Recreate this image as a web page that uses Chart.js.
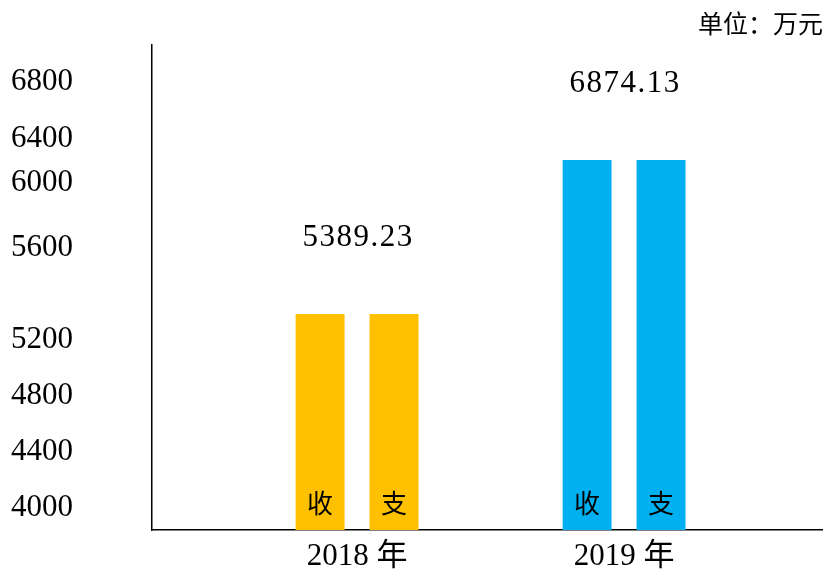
<!DOCTYPE html>
<html><head><meta charset="utf-8">
<script src="https://cdn.jsdelivr.net/npm/chart.js@4/dist/chart.umd.min.js"></script>
<style>html,body{margin:0;padding:0;background:#fff}#wrap{width:823px;height:572px}</style>
</head><body><div id="wrap"><canvas id="c"></canvas></div>
<script>
// ---- data ----
const years = ['2018 年', '2019 年'];
const seriesNames = ['收', '支'];
const incomeBars = [5312, 6209];   // bar heights read against the y axis
const expenseBars = [5312, 6209];
const totals = ['5389.23', '6874.13'];
const yTickValues = [4000, 4400, 4800, 5200, 5600, 6000, 6400, 6800];
const unitText = '单位：万元';

const YELLOW = '#FFC000', BLUE = '#00B0F0';
const NUM_FONT = '"Liberation Serif", "Noto Sans CJK SC", serif';
const CJK_FONT = '"Noto Sans CJK SC", "Liberation Serif", sans-serif';
const Y_MIN = 3843, Y_MAX = 7060;

// piecewise-linear value axis (the picture's tick spacing is uneven)
class PiecewiseScale extends Chart.LinearScale {
  _frac(v) {
    const k = this.options.knots;
    let i = 0;
    while (i < k.length - 2 && v > k[i + 1].value) i++;
    const a = k[i], b = k[i + 1];
    return a.at + (v - a.value) * (b.at - a.at) / (b.value - a.value);
  }
  getPixelForValue(v) {
    return this.bottom - this._frac(v) * (this.bottom - this.top);
  }
  getValueForPixel(p) {
    const f = (this.bottom - p) / (this.bottom - this.top);
    const k = this.options.knots;
    let i = 0;
    while (i < k.length - 2 && f > k[i + 1].at) i++;
    const a = k[i], b = k[i + 1];
    return a.value + (f - a.at) * (b.value - a.value) / (b.at - a.at);
  }
}
PiecewiseScale.id = 'piecewise';
PiecewiseScale.defaults = {};
Chart.register(PiecewiseScale);

const barLabels = {
  id: 'barLabels',
  afterDatasetsDraw(chart) {
    const ctx = chart.ctx;
    const metas = [chart.getDatasetMeta(0), chart.getDatasetMeta(1)];
    ctx.save();
    ctx.fillStyle = '#000';
    ctx.textAlign = 'center';
    ctx.textBaseline = 'middle';
    ctx.font = '26px ' + CJK_FONT;
    metas.forEach((m, d) => m.data.forEach(bar => ctx.fillText(seriesNames[d], bar.x, bar.base - 27)));
    ctx.font = '31px ' + NUM_FONT;
    ctx.letterSpacing = '1.5px';
    metas[0].data.forEach((bar, i) => {
      const other = metas[1].data[i];
      const cx = (bar.x + other.x) / 2;
      const top = Math.min(bar.y, other.y);
      ctx.fillText(totals[i], cx + 1, top - 76);
    });
    ctx.restore();
  }
};

Chart.defaults.font.family = NUM_FONT;
Chart.defaults.color = '#000';

new Chart(document.getElementById('c'), {
  type: 'bar',
  data: {
    datasets: [
      { label: seriesNames[0], data: incomeBars.map((y, i) => ({ x: i, y })), backgroundColor: [YELLOW, BLUE] },
      { label: seriesNames[1], data: expenseBars.map((y, i) => ({ x: i, y })), backgroundColor: [YELLOW, BLUE] }
    ]
  },
  options: {
    responsive: true,
    maintainAspectRatio: false,
    animation: false,
    base: Y_MIN,
    categoryPercentage: 0.554,
    barPercentage: 0.662,
    layout: { padding: { left: 11, right: 0, top: 0, bottom: 0 } },
    plugins: {
      legend: { display: false },
      title: {
        display: true, text: unitText, align: 'end', color: '#000',
        font: { family: CJK_FONT, size: 25, weight: 'normal', lineHeight: 1.2 },
        padding: { top: 8, bottom: 7 }
      },
      tooltip: { enabled: true }
    },
    scales: {
      x: {
        type: 'linear', min: -0.768, max: 1.745, offset: false,
        grid: { display: false, drawTicks: false },
        border: { display: true, color: '#000', width: 1.5 },
        afterBuildTicks: s => { s.ticks = years.map((_, i) => ({ value: i })); },
        afterFit: s => { s.height = 42; },
        ticks: {
          callback: v => years[v], autoSkip: false, maxRotation: 0,
          font: { family: NUM_FONT, size: 31 }, padding: 8, color: '#000'
        }
      },
      y: {
        type: 'piecewise', min: Y_MIN, max: Y_MAX,
        knots: [
          { value: 3843, at: 0 }, { value: 4000, at: 0.0454 }, { value: 4400, at: 0.1608 },
          { value: 4800, at: 0.2763 }, { value: 5200, at: 0.3918 }, { value: 5600, at: 0.5825 },
          { value: 6000, at: 0.7155 }, { value: 6400, at: 0.8062 }, { value: 6800, at: 0.9237 },
          { value: 7060, at: 1 }
        ],
        grid: { display: false, drawTicks: false },
        border: { display: true, color: '#000', width: 1.5 },
        afterBuildTicks: s => { s.ticks = yTickValues.map(v => ({ value: v })); },
        afterFit: s => { s.width = 141; },
        ticks: {
          callback: v => String(v), autoSkip: false, crossAlign: 'far',
          font: { family: NUM_FONT, size: 31 }, color: '#000'
        }
      }
    }
  },
  plugins: [barLabels]
});
</script></body></html>
